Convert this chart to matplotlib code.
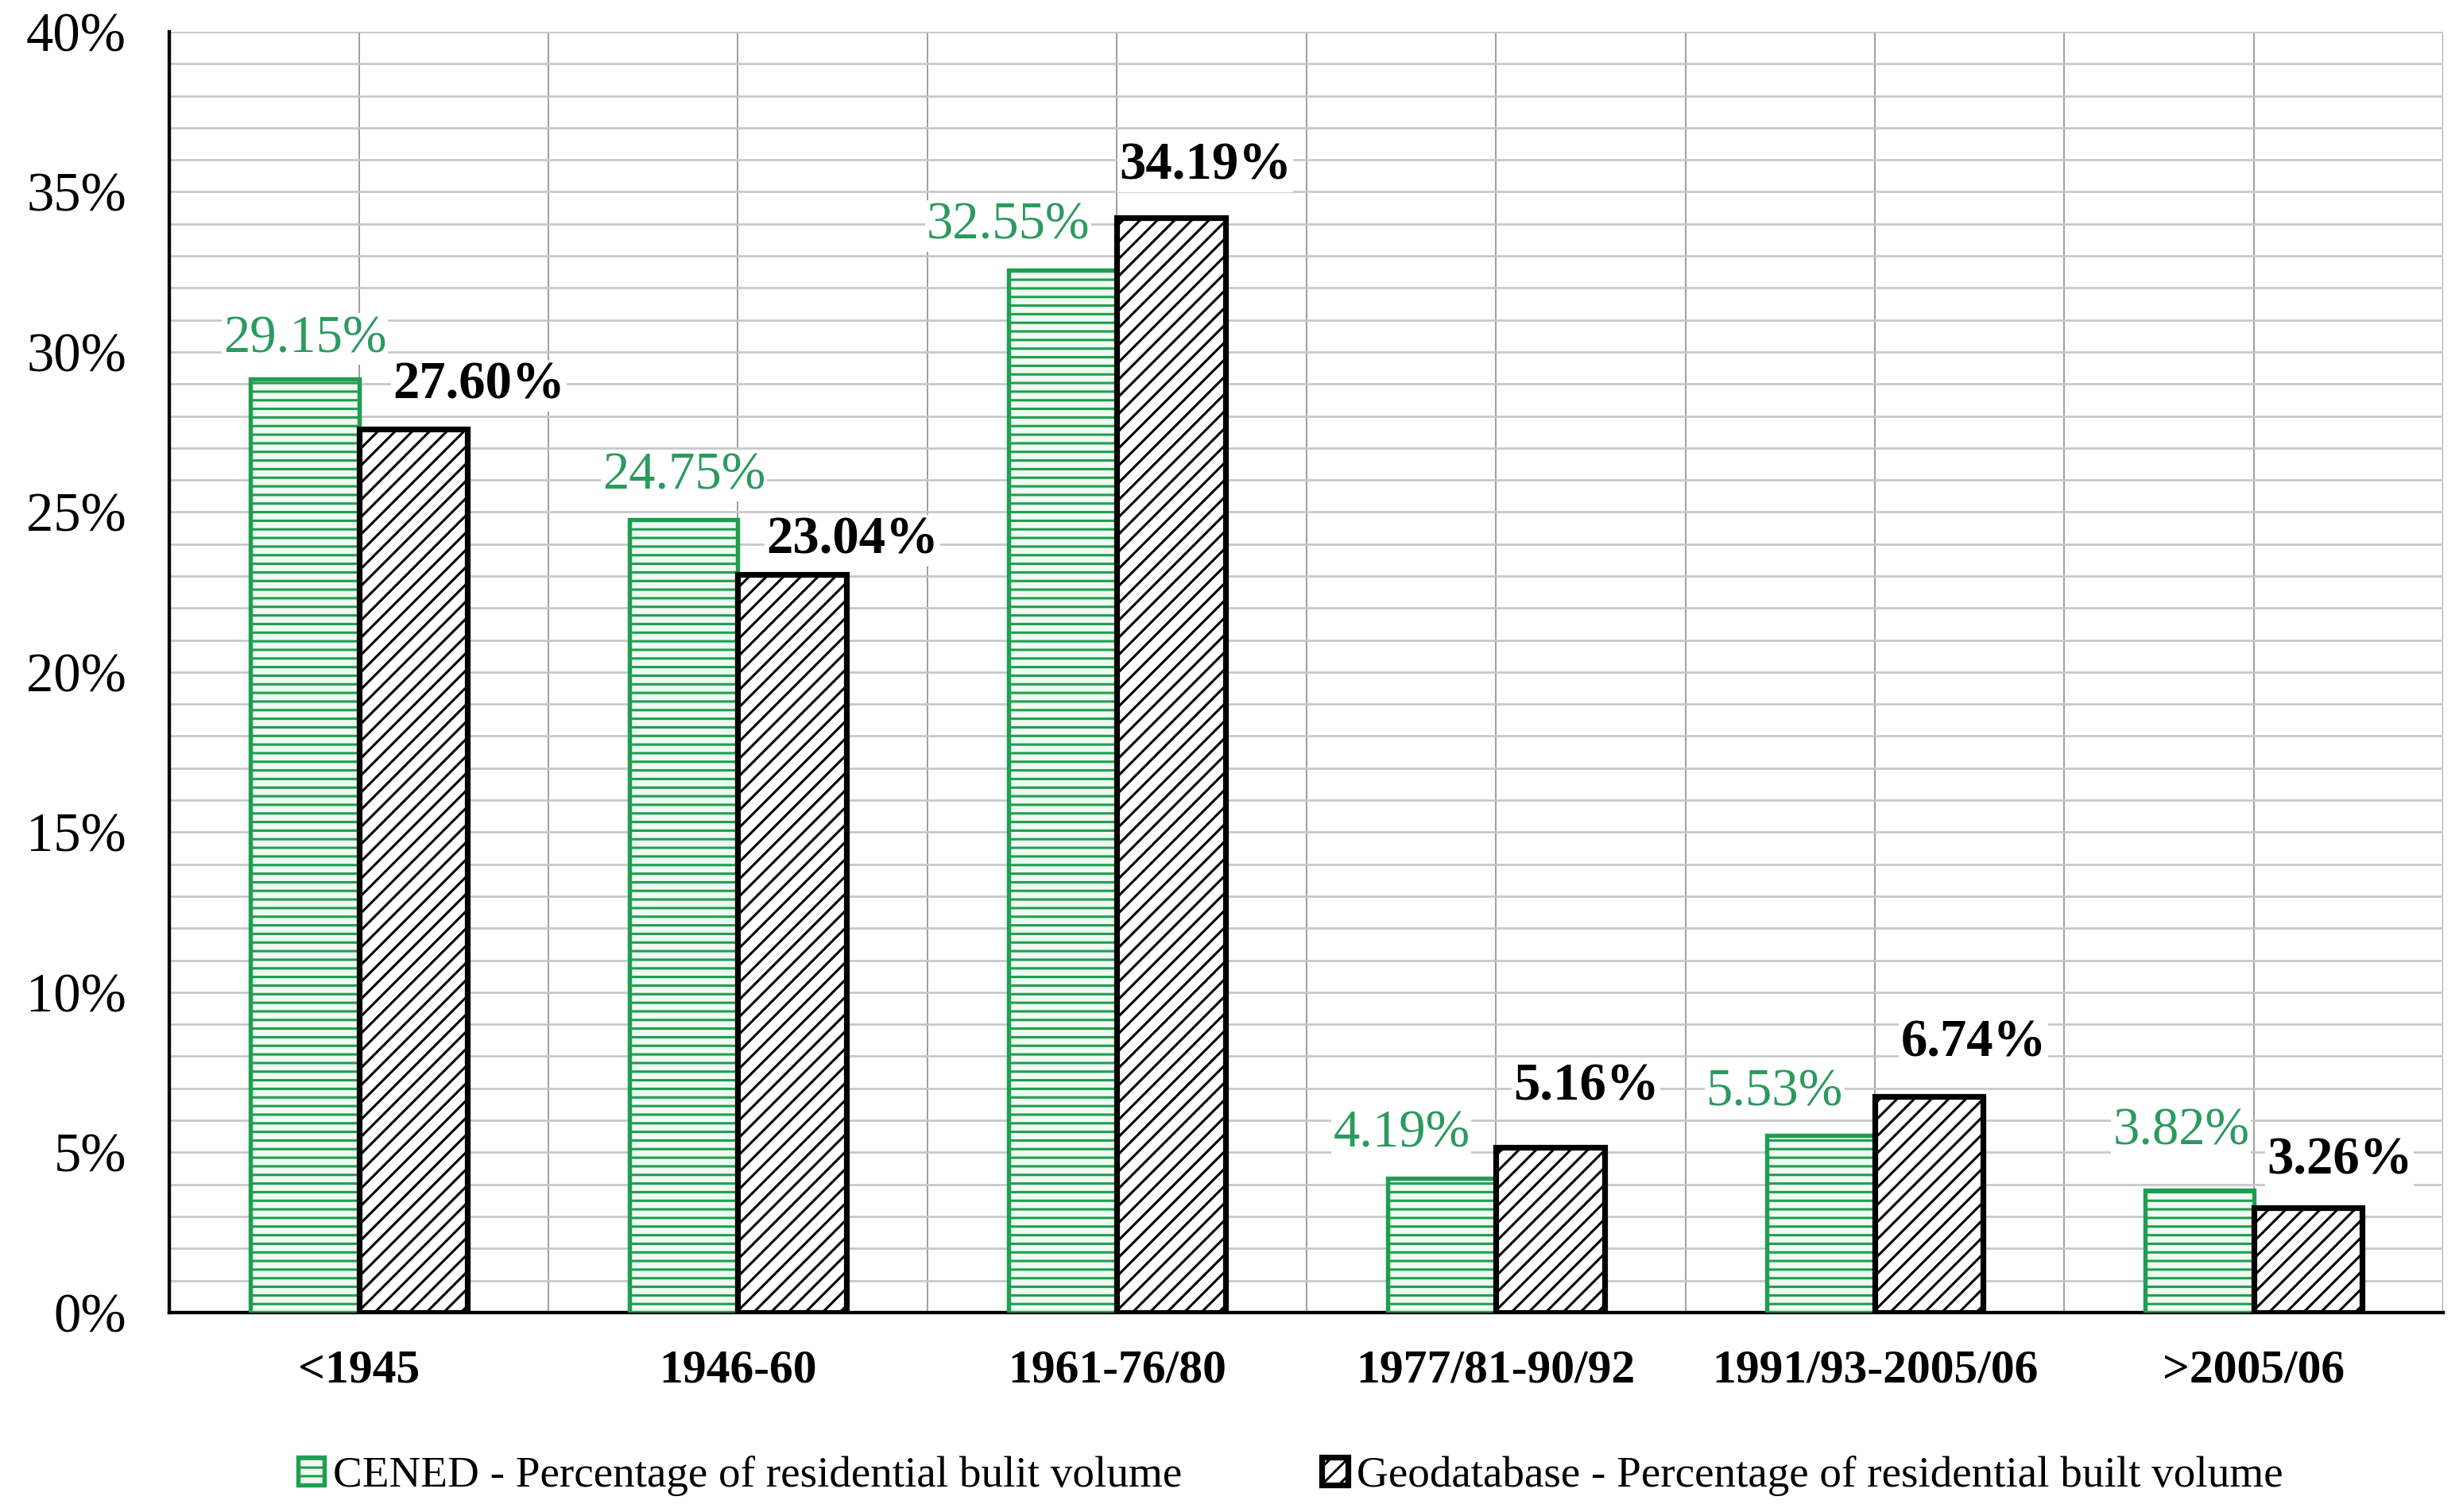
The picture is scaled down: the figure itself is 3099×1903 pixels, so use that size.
import numpy as np
import matplotlib.pyplot as plt
from matplotlib.ticker import MultipleLocator, FuncFormatter

plt.rcParams['font.family'] = ['Liberation Serif', 'DejaVu Serif']
plt.rcParams['hatch.linewidth'] = 1.7

# data
periods = ['<1945', '1946-60', '1961-76/80', '1977/81-90/92', '1991/93-2005/06', '>2005/06']
cened = [29.15, 24.75, 32.55, 4.19, 5.53, 3.82]
geodb = [27.60, 23.04, 34.19, 5.16, 6.74, 3.26]
legend_labels = ['CENED - Percentage of residential bulit volume',
                 'Geodatabase - Percentage of residential built volume']

# label nudges (points), placed by hand in the original
cened_dx = [0, 0, -38, -28, -32, -13]
cened_dy = [28, 31, 31, 31, 30, 41]
geodb_dx = [46, 42, 24, 25, 31, 22]
geodb_dy = [30, 24, 36, 42, 37, 33]

green = '#1f9e4f'
green_txt = '#2b9a5e'

fig = plt.figure(figsize=(3099 / 130, 1903 / 130), dpi=130)
ax = fig.add_axes([0.0688, 0.132, 0.9232, 0.847])

x = np.arange(len(periods))
w = 0.286

b1 = ax.bar(x - w / 2, cened, w, facecolor='#eefaf2', edgecolor=green,
            hatch='--', linewidth=3, zorder=3, label=legend_labels[0])
b2 = ax.bar(x + w / 2, geodb, w, facecolor='white', edgecolor='black',
            hatch='//', linewidth=4, zorder=3, label=legend_labels[1])

# data labels
for xi, v, dx, dy in zip(x, cened, cened_dx, cened_dy):
    ax.annotate(f'{v:.2f}%', (xi - w / 2, v), xytext=(dx, dy), textcoords='offset points',
                ha='center', va='center', fontsize=37, color=green_txt, zorder=5,
                bbox=dict(facecolor='white', edgecolor='none', pad=1))
for xi, v, dx, dy in zip(x, geodb, geodb_dx, geodb_dy):
    ax.annotate(f'{v:.2f}%', (xi + w / 2, v), xytext=(dx, dy), textcoords='offset points',
                ha='center', va='center', fontsize=37, fontweight='bold', color='black',
                zorder=5, bbox=dict(facecolor='white', edgecolor='none', pad=1))

ax.set_xlim(-0.5, len(periods) - 0.5)
ax.set_ylim(0, 40)
ax.set_xticks(x)
ax.set_xticks(np.arange(len(periods) + 1) - 0.5, minor=True)
ax.set_xticklabels(periods, fontsize=33, fontweight='bold')
ax.yaxis.set_major_locator(MultipleLocator(5))
ax.yaxis.set_minor_locator(MultipleLocator(1))
ax.yaxis.set_major_formatter(FuncFormatter(lambda v, p: f'{v:.0f}%'))
ax.tick_params(axis='y', labelsize=38, pad=30, length=0, which='both')
ax.tick_params(axis='x', pad=26, length=0, which='both')

ax.grid(axis='y', which='both', color='#c8c8c8', linewidth=1.5, zorder=0)
ax.grid(axis='x', which='both', color='#a0a0a0', linewidth=1.1, zorder=0)
ax.set_axisbelow(True)

for s in ['top', 'right']:
    ax.spines[s].set_visible(False)
ax.spines['left'].set_linewidth(2.4)
ax.spines['bottom'].set_linewidth(2.4)

fig.legend(handles=[b1, b2], loc='center', bbox_to_anchor=(0.524, 0.024), ncol=2,
           frameon=False, fontsize=30.5, handlelength=0.6, handleheight=0.6,
           handletextpad=0.2, columnspacing=3.2)

fig.savefig('out.png', dpi=130)
